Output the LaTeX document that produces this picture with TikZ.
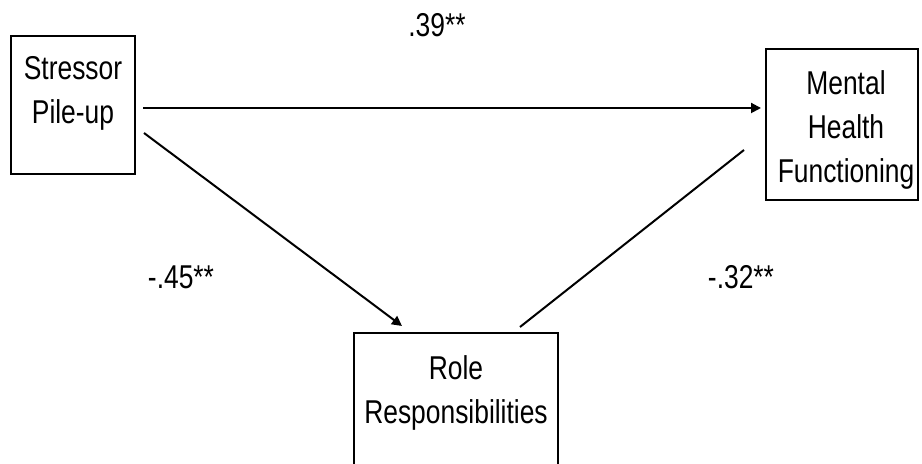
\documentclass[tikz,border=0pt]{standalone}
\usepackage{fontspec}
\setmainfont[FakeStretch=0.8]{Liberation Sans}
\usetikzlibrary{arrows.meta,positioning}

\begin{document}
\begin{tikzpicture}[x=0.5pt, y=0.5pt, line width=1pt]
	\tikzstyle{every node} = [rectangle, font=\fontsize{16.5}{22}\selectfont]
	\tikzstyle{box} = [draw, line width=1pt, inner sep=0pt]
	\tikzstyle{txt} = [align=center, inner sep=0pt, anchor=north]
	\tikzstyle{arr} = [-{Triangle[length=5pt, width=5pt]}]
	\clip (0,0) rectangle (922,464);
	% the three boxes
	\node[box, minimum width=62pt, minimum height=69pt]    (stress) at (73,359)    {};
	\node[box, minimum width=76pt, minimum height=75.5pt]  (mental) at (842,339.5) {};
	\node[box, minimum width=102pt, minimum height=73.5pt] (role)   at (456,57.5)  {};
	\node[txt] (stresstxt) at (73,409)  {Stressor\\Pile-up};
	\node[txt] (mentaltxt) at (846,394) {Mental\\Health\\Functioning};
	\node[txt] (roletxt)   at (456,109) {Role\\Responsibilities};
	% path coefficients
	\node (c1) at (437,439) {.39**};
	\node (c2) at (181,187) {-.45**};
	\node (c3) at (741,187) {-.32**};
	\draw [arr] ([shift={(7,-3)}]stress.east)  -- ([shift={(-4,16.5)}]mental.west);
	\draw [arr] ([shift={(8,-28)}]stress.east) -- ([shift={(-54,6)}]role.north);
	\draw       ([shift={(64,5)}]role.north)   -- ([shift={(-21,-25.5)}]mental.west);
\end{tikzpicture}
\end{document}
